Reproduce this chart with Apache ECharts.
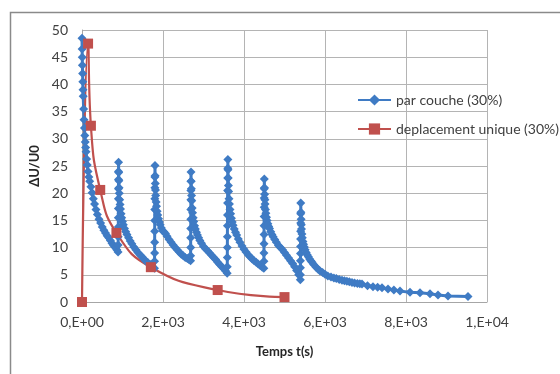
<!DOCTYPE html>
<html>
<head>
<meta charset="utf-8">
<script src="https://cdn.jsdelivr.net/npm/echarts@6/dist/echarts.min.js"></script>
<style>
html,body{margin:0;padding:0;background:#fff;}
#chart{width:560px;height:374px;}
</style>
</head>
<body>
<div id="chart"></div>
<script>
// ---- Data ----
var seriesNames = ['par couche (30%)', 'deplacement unique (30%)'];

// par couche (30%) : time (s)
var parCoucheT = [
  0, 3, 6, 10, 15, 20, 25, 30, 40, 50, 60, 70, 80, 90, 100, 115, 130, 150, 170, 190, 220, 250, 280, 310, 345, 380, 420, 460, 500, 540, 580, 620, 660, 700, 740, 780, 820, 860, 890,
  892, 894, 896, 897, 898, 899, 900, 901, 902, 903,
  906, 910, 915, 920, 930, 940, 950, 965, 980, 1000, 1020, 1050, 1080, 1110, 1150, 1190, 1230, 1280, 1330, 1380, 1430, 1480, 1530, 1580, 1630, 1680, 1730, 1790,
  1792, 1793, 1794, 1795, 1796, 1797, 1798, 1799, 1800, 1802,
  1805, 1810, 1815, 1820, 1830, 1840, 1855, 1870, 1890, 1910, 1930, 1960, 1990, 2020, 2060, 2100, 2150, 2200, 2250, 2300, 2350, 2400, 2450, 2500, 2550, 2600, 2640, 2680,
  2682, 2683, 2684, 2685, 2686, 2687, 2688, 2689, 2690, 2692,
  2695, 2700, 2705, 2710, 2720, 2730, 2745, 2760, 2780, 2800, 2825, 2850, 2880, 2910, 2950, 3000, 3050, 3100, 3150, 3200, 3250, 3300, 3350, 3400, 3450, 3500, 3545, 3585,
  3587, 3588, 3589, 3590, 3591, 3592, 3594, 3596, 3598, 3600, 3602,
  3605, 3610, 3615, 3620, 3630, 3640, 3655, 3670, 3690, 3710, 3730, 3760, 3790, 3820, 3860, 3900, 3950, 4000, 4050, 4100, 4150, 4200, 4250, 4300, 4350, 4400, 4450, 4490,
  4492, 4493, 4494, 4495, 4496, 4497, 4498, 4499, 4500, 4502,
  4505, 4510, 4515, 4520, 4530, 4540, 4555, 4570, 4590, 4610, 4630, 4660, 4690, 4720, 4760, 4800, 4850, 4900, 4950, 5000, 5050, 5100, 5150, 5200, 5250, 5300, 5350, 5390,
  5392, 5393, 5394, 5395, 5396, 5397, 5398, 5399, 5400, 5402,
  5405, 5410, 5415, 5420, 5430, 5440, 5455, 5470, 5490, 5510, 5535, 5560, 5590, 5620, 5650, 5680, 5720, 5780, 5830, 5877, 5940, 6000, 6070, 6148, 6220, 6280, 6350, 6420, 6480, 6540, 6600,
  6667, 6730, 6800, 6860, 6914, 7050, 7185, 7300, 7407, 7556, 7700, 7852, 8099, 8346, 8593, 8790, 9037, 9531
];
// par couche (30%) : ΔU/U0
var parCoucheV = [
  48.5, 46.5, 45, 43.5, 42, 40.5, 39, 37.8, 35.5, 33.5, 32, 30.6, 29.4, 28.4, 27.6, 26.3, 25.2, 24, 23, 22.2, 21.2, 20.1, 19, 18, 17, 16.1, 15.2, 14.5, 13.8, 13.2, 12.7, 12.2, 11.8, 11.3, 10.8, 10.4, 10, 9.6, 9.2,
  10.5, 12, 13.8, 15.5, 17.2, 19, 20.8, 22.5, 24, 25.7,
  23.8, 22.3, 21, 20, 18.8, 17.9, 17.1, 16.2, 15.5, 14.8, 14.2, 13.5, 12.9, 12.4, 11.8, 11.2, 10.7, 10.1, 9.6, 9.1, 8.7, 8.3, 7.9, 7.5, 7.2, 6.9, 6.6, 6.2,
  7.5, 9, 11, 13, 15, 17, 19, 21, 23, 25.1,
  23.2, 21.8, 20.6, 19.6, 18.4, 17.6, 16.7, 16, 15.3, 14.7, 14.2, 13.6, 13.1, 12.9, 12.6, 12.1, 11.5, 11.0, 10.5, 10.0, 9.6, 9.2, 8.8, 8.5, 8.2, 8.0, 7.8, 7.6,
  8.5, 10, 11.8, 13.5, 15.2, 17, 18.8, 20.5, 22.2, 23.9,
  22.2, 20.8, 19.6, 18.6, 17.3, 16.4, 15.5, 14.8, 14, 13.4, 12.8, 12.3, 11.8, 11.3, 10.8, 10.2, 9.8, 9.4, 9.0, 8.6, 8.2, 7.8, 7.3, 6.9, 6.5, 6.1, 5.7, 5.3,
  6.5, 8.2, 10, 12, 14, 16, 18.2, 20.5, 22.8, 24.6, 26.2,
  24.3, 22.8, 21.4, 20.3, 19, 18, 17, 16.2, 15.4, 14.7, 14.1, 13.4, 12.8, 12.3, 11.6, 11, 10.3, 9.7, 9.2, 8.7, 8.3, 7.9, 7.6, 7.3, 7, 6.7, 6.4, 6.2,
  7.5, 9, 10.7, 12.4, 14, 15.7, 17.4, 19.1, 20.8, 22.6,
  21, 19.8, 18.8, 18, 17, 16.3, 15.6, 15, 14.4, 13.9, 13.5, 12.9, 12.4, 12, 11.5, 11, 10.4, 10.0, 9.6, 9.1, 8.6, 8.1, 7.6, 7.1, 6.5, 5.8, 5.0, 4.1,
  5, 6.3, 7.6, 8.9, 10.2, 11.6, 13, 14.5, 16.2, 18.2,
  16.5, 15.2, 14.2, 13.4, 12.5, 11.8, 11.1, 10.6, 10.1, 9.6, 9.1, 8.7, 8.3, 7.9, 7.6, 7.3, 6.9, 6.4, 6.0, 5.7, 5.4, 5.1, 4.8, 4.6, 4.4, 4.3, 4.15, 4.0, 3.9, 3.8, 3.7,
  3.6, 3.5, 3.4, 3.35, 3.3, 3.0, 2.8, 2.7, 2.6, 2.4, 2.2, 2.0, 1.8, 1.7, 1.5, 1.3, 1.1, 1.0
];

// deplacement unique (30%)
var deplT = [0, 150, 220, 450, 850, 1700, 3350, 5000];
var deplV = [0, 47.5, 32.4, 20.6, 12.7, 6.4, 2.2, 0.9];

// axes
var yTicks = [0, 5, 10, 15, 20, 25, 30, 35, 40, 45, 50];
var xTicks = [0, 2000, 4000, 6000, 8000, 10000];
var xTickLabels = ['0,E+00', '2,E+03', '4,E+03', '6,E+03', '8,E+03', '1,E+04'];
var xAxisTitle = 'Temps t(s)';
var yAxisTitle = 'ΔU/U0';

function pairs(t, v) { return t.map(function (x, i) { return [x, v[i]]; }); }

var FONT = 'Lato';
var chart = echarts.init(document.getElementById('chart'), null, { renderer: 'canvas' });
chart.setOption({
  backgroundColor: '#ffffff',
  animation: false,
  graphic: [{
    type: 'rect', left: 8, top: 10, z: -10,
    shape: { width: 620, height: 420 },
    style: { fill: 'none', stroke: '#8a8a8a', lineWidth: 1.5 }
  }],
  grid: { left: 82, right: 73, top: 30, bottom: 72, containLabel: false },
  legend: {
    orient: 'vertical', left: 352, top: 88, itemGap: 15,
    itemWidth: 33, itemHeight: 14,
    textStyle: { fontFamily: FONT, fontSize: 14, color: '#404040' },
    data: seriesNames
  },
  xAxis: {
    type: 'value', min: xTicks[0], max: xTicks[xTicks.length - 1], interval: 2000,
    name: xAxisTitle, nameLocation: 'middle', nameGap: 43,
    nameTextStyle: { fontFamily: FONT, fontSize: 13, fontWeight: 'bold', color: '#262626' },
    axisLine: { show: true, lineStyle: { color: '#a6a6a6', width: 1 } },
    axisTick: { show: false },
    axisLabel: {
      margin: 13, fontFamily: FONT, fontSize: 14, color: '#404040',
      formatter: function (v) { var i = xTicks.indexOf(v); return i >= 0 ? xTickLabels[i] : ''; }
    },
    splitLine: { show: true, lineStyle: { color: '#b4b4b4', width: 1 } }
  },
  yAxis: {
    type: 'value', min: yTicks[0], max: yTicks[yTicks.length - 1], interval: 5,
    name: yAxisTitle, nameLocation: 'middle', nameGap: 38, nameRotate: 90,
    nameTextStyle: { fontFamily: FONT, fontSize: 13, fontWeight: 'bold', color: '#262626' },
    axisLine: { show: true, lineStyle: { color: '#a6a6a6', width: 1 } },
    axisTick: { show: false },
    axisLabel: { margin: 14, fontFamily: FONT, fontSize: 14, color: '#404040' },
    splitLine: { show: true, lineStyle: { color: '#b4b4b4', width: 1 } }
  },
  series: [{
    name: seriesNames[0], type: 'line',
    data: pairs(parCoucheT, parCoucheV),
    symbol: 'diamond', symbolSize: 9, showAllSymbol: true,
    itemStyle: { color: '#3f7bc4' },
    lineStyle: { color: '#3f7bc4', width: 3 }
  }, {
    name: seriesNames[1], type: 'line',
    data: pairs(deplT, deplV),
    smooth: 0.5,
    symbol: 'rect', symbolSize: 10, showAllSymbol: true,
    itemStyle: { color: '#c0504d' },
    lineStyle: { color: '#c0504d', width: 2.2 }
  }]
});
</script>
</body>
</html>
